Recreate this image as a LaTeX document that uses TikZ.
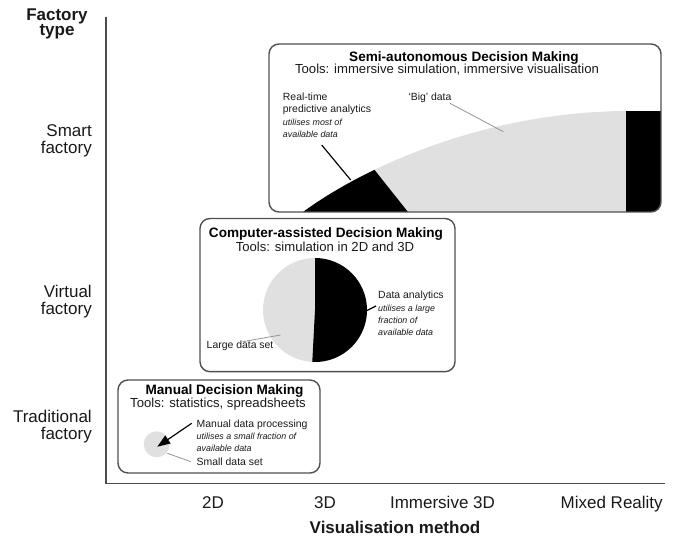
\documentclass[tikz,border=0pt]{standalone}
\usepackage{fontspec}
\setmainfont{Liberation Sans}
\usepackage{tikz}
\usetikzlibrary{arrows.meta,positioning}
\definecolor{datagrey}{RGB}{224,224,224}
\definecolor{framegrey}{RGB}{80,80,80}
\definecolor{leadgrey}{RGB}{150,150,150}
\definecolor{inkcolor}{RGB}{25,25,25}
\newcommand{\datanote}[1]{{\itshape\fontsize{7.6}{10.5}\selectfont #1}}

\begin{document}
\begin{tikzpicture}[
    x=0.03cm, y=-0.03cm,
    axis/.style={draw=black!70, line width=1.1pt},
    panel/.style={draw=framegrey, line width=1.2pt, rounded corners=0.3cm},
    axistitle/.style={font=\fontsize{14.5}{14.5}\selectfont\bfseries, align=center, anchor=base, inner sep=0pt, text=inkcolor},
    axislabel/.style={font=\fontsize{14.5}{14.5}\selectfont, anchor=base, inner sep=0pt, text=inkcolor},
    ylabel/.style={axislabel, align=right, anchor=base east},
    paneltitle/.style={font=\fontsize{11.6}{12}\selectfont\bfseries, anchor=base, inner sep=0pt},
    tools/.style={font=\fontsize{11.2}{12}\selectfont, anchor=base, inner sep=0pt, text=inkcolor},
    callout/.style={font=\fontsize{8.9}{10.5}\selectfont, align=left, anchor=base west, inner sep=0pt, text=inkcolor},
    leader/.style={draw=leadgrey, line width=0.7pt},
    pointer/.style={draw=black, line width=1pt}
]
\useasboundingbox (0,0) rectangle (679,544);

% Axes
\coordinate (origin) at (106,483.3);
\coordinate (ytop) at (106,17);
\coordinate (xend) at (665,483.3);
\draw[axis] (ytop) -- (origin) -- (xend);

% Axis titles (base = last line)
\node[axistitle] (ytitle) at (57,36) {Factory\\[-1pt]type};
\node[axistitle] (xtitle) at (395,533) {Visualisation method};

% Factory types
\node[ylabel] (smart) at (92,153.8) {Smart\\factory};
\node[ylabel] (virtual) at (92,314.7) {Virtual\\factory};
\node[ylabel] (traditional) at (92,439.7) {Traditional\\factory};

% Visualisation methods
\node[axislabel] (vis2d) at (213,508) {2D};
\node[axislabel] (vis3d) at (325,508) {3D};
\node[axislabel] (visimm) at (442.5,508) {Immersive 3D};
\node[axislabel] (vismr) at (611.7,508) {Mixed Reality};

% Semi-autonomous panel
\begin{scope}
  \clip[rounded corners=0.3cm] (269,44) rectangle (661,212);
  \fill[datagrey] (303,212) .. controls (360,170) and (480,112) .. (626,111) -- (626,212) -- cycle;
  \fill[black] (626,111) rectangle (661,212);
  \clip (290,215) -- (290,140) -- (350.7,140) -- (408,212) -- (408,215) -- cycle;
  \fill[black] (303,212) .. controls (360,170) and (480,112) .. (626,111) -- (626,212) -- cycle;
\end{scope}
\draw[panel] (269,44) rectangle (661,212);
\node[paneltitle] (semi_title) at (464,61.5) {Semi-autonomous Decision Making};
\node[tools] (semi_tools) at (447,74) {Tools: immersive simulation, immersive visualisation};
\node[callout] (rt_note) at (282.7,137.5) {Real-time\\predictive analytics\\\datanote{utilises most of}\\\datanote{available data}};
\node[callout] (big_note) at (408.3,100.5) {‘Big’ data};
\coordinate (rt_tip) at (350.7,180);
\coordinate (rt_tail) at (321.7,145);
\coordinate (big_tail) at (450,103.3);
\coordinate (big_tip) at (503.3,131.7);
\draw[pointer] (rt_tail) -- (rt_tip);
\draw[leader] (big_tail) -- (big_tip);

% Computer-assisted panel
\coordinate (ca_pie) at (315,310);
\fill[datagrey] (ca_pie) circle[radius=52];
\fill[black] (ca_pie) -- ++(-90:52) arc[start angle=-90, end angle=93, radius=52] -- cycle;
\draw[panel] (200,218.5) rectangle (455,371.7);
\node[paneltitle] (ca_title) at (326,238) {Computer-assisted Decision Making};
\node[tools] (ca_tools) at (325,251.7) {Tools: simulation in 2D and 3D};
\node[callout] (da_note) at (378,335.9) {Data analytics\\\datanote{utilises a large}\\\datanote{fraction of}\\\datanote{available data}};
\node[callout] (large_note) at (206.5,348.8) {Large data set};
\coordinate (da_tail) at (376,306);
\coordinate (da_tip) at (366,311);
\coordinate (large_tail) at (242.6,341.7);
\coordinate (large_tip) at (280.5,335);
\draw[pointer] (da_tail) -- (da_tip);
\draw[leader] (large_tail) -- (large_tip);

% Manual panel
\coordinate (man_pie) at (156.7,444.3);
\fill[datagrey] (man_pie) circle[radius=13];
\draw[panel] (118,380) rectangle (320,473);
\node[paneltitle] (man_title) at (224.5,394) {Manual Decision Making};
\node[tools] (man_tools) at (218,407) {Tools: statistics, spreadsheets};
\node[callout] (mp_note) at (196.5,451.7) {Manual data processing\\\datanote{utilises a small fraction of}\\\datanote{available data}};
\node[callout] (small_note) at (196.5,465.5) {Small data set};
\coordinate (mp_tail) at (191.7,423.3);
\coordinate (mp_tip) at (157.3,446.7);
\coordinate (small_tail) at (167.3,453.3);
\coordinate (small_tip) at (191,461.7);
\draw[pointer, -{Triangle[length=11pt, width=8pt]}] (mp_tail) -- (mp_tip);
\draw[leader] (small_tail) -- (small_tip);

\end{tikzpicture}
\end{document}
